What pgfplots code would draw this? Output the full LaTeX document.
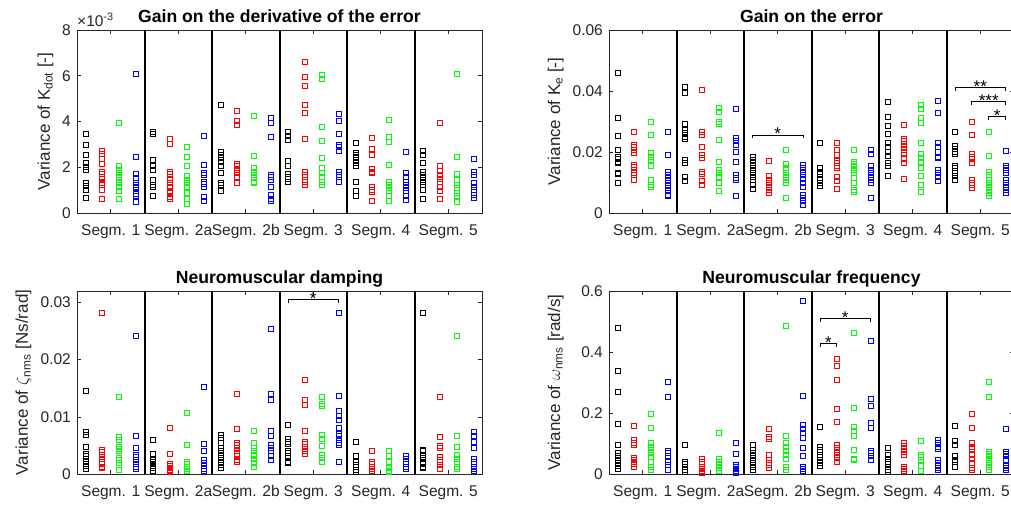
\documentclass[border=0pt]{standalone}
\usepackage{pgfplots}
\pgfplotsset{compat=1.18}
\usepackage{fontspec}
\setmainfont{Liberation Sans}
\definecolor{axgray}{gray}{0.15}
\definecolor{mred}{rgb}{1,0,0}
\definecolor{mgreen}{rgb}{0,1,0}
\definecolor{mblue}{rgb}{0,0,1}
\pgfplotsset{
  every axis title shift=0pt,
  panel/.style={
    scale only axis, width=405pt, height=183pt,
    xmin=0, xmax=24, ymin=0,
    xtick={2,6,10,14,18,22},
    xticklabels={Segm. 1,Segm. 2a,Segm. 2b,Segm. 3,Segm. 4,Segm. 5},
    tick align=inside, major tick length=4pt,
    axis line style={axgray, line width=0.6pt},
    tick style={axgray, line width=0.6pt},
    ticklabel style={font=\fontsize{15.5}{18}\selectfont, text=axgray},
    xticklabel style={anchor=base, yshift=-22.7pt, inner sep=0pt},
    yticklabel style={anchor=east, inner sep=0pt, xshift=-6pt},
    extra x ticks={4,8,12,16,20},
    extra x tick labels={},
    extra x tick style={grid=major, major grid style={black, line width=2pt}, major tick length=0pt},
    title style={font=\bfseries\fontsize{17.6}{20}\selectfont, at={(axis description cs:0.5,1.04)}, anchor=base},
    ylabel style={font=\fontsize{17}{20}\selectfont, text=axgray, anchor=base},
    /pgf/number format/assume math mode=true,
    scaled y ticks=false,
    clip=false,
  },
  pk/.style={only marks, mark=square, mark size=2.5pt, black, mark options={line width=0.7pt}},
  pr/.style={only marks, mark=square, mark size=2.5pt, mred, mark options={line width=0.7pt}},
  pg/.style={only marks, mark=square, mark size=2.5pt, mgreen, mark options={line width=0.7pt}},
  pb/.style={only marks, mark=square, mark size=2.5pt, mblue, mark options={line width=0.7pt}},
}
% x1, x2, xmid, y, stars
\newcommand{\sig}[5]{%
  \draw[black, line width=0.7pt] ([yshift=-3.3pt]axis cs:#1,#4) -- (axis cs:#1,#4) -- (axis cs:#2,#4) -- ([yshift=-3.3pt]axis cs:#2,#4);
  \node[anchor=base, inner sep=0pt, text height=0.72em, text depth=0pt, font=\fontsize{17}{20}\selectfont, yshift=-5pt] at (axis cs:#3,#4) {#5};}
\begin{document}
\begin{tikzpicture}
\useasboundingbox (0,0) rectangle (1011pt,507pt);
% ---------------- Panel A ----------------
\begin{axis}[panel, at={(77pt,294pt)}, anchor=south west,
  ymax=8, ytick={0,2,4,6,8}, yticklabels={0,2,4,6,8},
  title={Gain on the derivative of the error},
  ylabel={Variance of K\textsubscript{dot} [-]},
  ylabel style={at={(axis description cs:-0.0667,0.5)}}]
\addplot[pk] coordinates {(0.5,3.45)(0.5,3.0)(0.5,2.55)(0.5,2.2)(0.5,2.0)(0.5,1.9)(0.5,1.3)(0.5,1.2)(0.5,1.0)(0.5,0.65)
(4.5,3.56)(4.5,3.46)(4.5,2.33)(4.5,2.11)(4.5,2.04)(4.5,1.89)(4.5,1.45)(4.5,1.24)(4.5,1.16)(4.5,0.73)
(8.5,4.73)(8.5,2.69)(8.5,2.55)(8.5,2.4)(8.5,2.25)(8.5,2.04)(8.5,1.77)(8.5,1.31)(8.5,1.21)(8.5,0.97)
(12.5,3.53)(12.5,3.37)(12.5,3.2)(12.5,2.3)(12.5,2.04)(12.5,1.72)(12.5,1.6)(12.5,1.5)(12.5,1.38)
(16.5,3.05)(16.5,2.65)(16.5,2.55)(16.5,2.44)(16.5,2.33)(16.5,2.18)(16.5,2.04)(16.5,1.34)(16.5,0.99)(16.5,0.73)
(20.5,2.72)(20.5,2.55)(20.5,2.18)(20.5,1.82)(20.5,1.67)(20.5,1.53)(20.5,1.38)(20.5,1.24)(20.5,1.02)(20.5,0.63)};
\addplot[pr] coordinates {(1.5,2.72)(1.5,2.59)(1.5,2.37)(1.5,2.15)(1.5,1.82)(1.5,1.72)(1.5,1.6)(1.5,1.48)(1.5,1.31)(1.5,1.24)(1.5,1.02)(1.5,0.63)
(5.5,3.23)(5.5,3.03)(5.5,1.79)(5.5,1.72)(5.5,1.45)(5.5,1.31)(5.5,1.16)(5.5,0.95)(5.5,0.87)(5.5,0.7)(5.5,0.63)
(9.5,4.48)(9.5,4.04)(9.5,3.85)(9.5,2.15)(9.5,2.04)(9.5,1.89)(9.5,1.77)(9.5,1.6)(9.5,1.31)
(13.5,6.62)(13.5,5.96)(13.5,5.57)(13.5,4.74)(13.5,4.39)(13.5,3.26)(13.5,1.79)(13.5,1.67)(13.5,1.57)(13.5,1.45)(13.5,1.34)(13.5,1.24)
(17.5,3.27)(17.5,2.81)(17.5,2.55)(17.5,1.92)(17.5,1.82)(17.5,1.75)(17.5,1.13)(17.5,1.02)(17.5,0.92)(17.5,0.55)
(21.5,3.96)(21.5,2.04)(21.5,1.86)(21.5,1.67)(21.5,1.5)(21.5,1.34)(21.5,1.16)(21.5,0.95)(21.5,0.61)};
\addplot[pg] coordinates {(2.5,3.96)(2.5,2.04)(2.5,1.89)(2.5,1.75)(2.5,1.6)(2.5,1.45)(2.5,1.31)(2.5,1.16)(2.5,0.95)(2.5,0.61)
(6.5,2.91)(6.5,2.47)(6.5,2.04)(6.5,1.64)(6.5,1.45)(6.5,1.31)(6.5,1.13)(6.5,0.9)(6.5,0.61)(6.5,0.41)
(10.5,4.26)(10.5,2.52)(10.5,1.96)(10.5,1.82)(10.5,1.67)(10.5,1.53)(10.5,1.38)(10.5,1.31)
(14.5,6.04)(14.5,5.85)(14.5,3.78)(14.5,3.17)(14.5,2.43)(14.5,1.96)(14.5,1.77)(14.5,1.6)(14.5,1.38)(14.5,1.24)
(18.5,4.07)(18.5,3.32)(18.5,3.13)(18.5,2.11)(18.5,1.38)(18.5,1.24)(18.5,1.09)(18.5,0.95)(18.5,0.73)(18.5,0.51)
(22.5,6.08)(22.5,2.44)(22.5,1.72)(22.5,1.45)(22.5,1.24)(22.5,1.12)(22.5,0.87)(22.5,0.73)(22.5,0.48)};
\addplot[pb] coordinates {(3.5,6.08)(3.5,2.44)(3.5,1.72)(3.5,1.53)(3.5,1.31)(3.5,1.24)(3.5,1.16)(3.5,1.09)(3.5,0.84)(3.5,0.73)(3.5,0.48)
(7.5,3.39)(7.5,2.11)(7.5,1.77)(7.5,1.67)(7.5,1.38)(7.5,1.27)(7.5,1.16)(7.5,0.7)(7.5,0.51)
(11.5,4.15)(11.5,3.93)(11.5,3.35)(11.5,1.67)(11.5,1.6)(11.5,1.45)(11.5,1.16)(11.5,0.8)(11.5,0.63)(11.5,0.51)
(15.5,4.32)(15.5,4.04)(15.5,3.46)(15.5,2.98)(15.5,2.88)(15.5,2.73)(15.5,1.79)(15.5,1.67)(15.5,1.57)(15.5,1.34)
(19.5,2.66)(19.5,1.77)(19.5,1.6)(19.5,1.38)(19.5,1.24)(19.5,1.09)(19.5,0.95)(19.5,0.73)(19.5,0.58)
(23.5,2.37)(23.5,1.79)(23.5,1.67)(23.5,1.31)(23.5,1.16)(23.5,1.02)(23.5,0.8)(23.5,0.65)};
\node[anchor=base west, inner sep=0pt, text=axgray, font=\fontsize{15.5}{18}\selectfont] at ([yshift=4pt]rel axis cs:0,1) {×10\textsuperscript{-3}};
\end{axis}
% ---------------- Panel B ----------------
\begin{axis}[panel, at={(609pt,294pt)}, anchor=south west,
  ymax=0.06, ytick={0,0.02,0.04,0.06}, yticklabels={0,0.02,0.04,0.06},
  title={Gain on the error},
  ylabel={Variance of K\textsubscript{e} [-]},
  ylabel style={at={(axis description cs:-0.121,0.5)}}]
\addplot[pk] coordinates {(0.5,0.0460)(0.5,0.0313)(0.5,0.0253)(0.5,0.0207)(0.5,0.0185)(0.5,0.0177)(0.5,0.0169)(0.5,0.0164)(0.5,0.0131)(0.5,0.0128)(0.5,0.0099)
(4.5,0.0412)(4.5,0.0395)(4.5,0.0292)(4.5,0.0273)(4.5,0.0262)(4.5,0.0251)(4.5,0.0242)(4.5,0.0175)(4.5,0.0164)(4.5,0.012)(4.5,0.0104)
(8.5,0.0185)(8.5,0.0175)(8.5,0.0164)(8.5,0.0153)(8.5,0.0142)(8.5,0.0131)(8.5,0.012)(8.5,0.0109)(8.5,0.0093)(8.5,0.0079)
(12.5,0.0231)(12.5,0.0147)(12.5,0.0136)(12.5,0.0129)(12.5,0.0109)(12.5,0.01)(12.5,0.0089)
(16.5,0.0365)(16.5,0.0316)(16.5,0.0286)(16.5,0.026)(16.5,0.0229)(16.5,0.0218)(16.5,0.0202)(16.5,0.0188)(16.5,0.0164)(16.5,0.0155)(16.5,0.0123)
(20.5,0.0267)(20.5,0.022)(20.5,0.0209)(20.5,0.0202)(20.5,0.0194)(20.5,0.0155)(20.5,0.0147)(20.5,0.0139)(20.5,0.0131)(20.5,0.0122)(20.5,0.0109)};
\addplot[pr] coordinates {(1.5,0.0267)(1.5,0.0224)(1.5,0.0216)(1.5,0.0207)(1.5,0.0196)(1.5,0.0158)(1.5,0.0151)(1.5,0.0142)(1.5,0.0133)(1.5,0.0125)(1.5,0.0109)
(5.5,0.0404)(5.5,0.0267)(5.5,0.0256)(5.5,0.0216)(5.5,0.0191)(5.5,0.018)(5.5,0.0136)(5.5,0.0129)(5.5,0.0104)(5.5,0.0093)
(9.5,0.0172)(9.5,0.0122)(9.5,0.0109)(9.5,0.01)(9.5,0.0093)(9.5,0.0085)(9.5,0.0076)(9.5,0.0065)
(13.5,0.0229)(13.5,0.0207)(13.5,0.0191)(13.5,0.0171)(13.5,0.0164)(13.5,0.0156)(13.5,0.0147)(13.5,0.012)(13.5,0.0107)(13.5,0.008)
(17.5,0.0289)(17.5,0.0242)(17.5,0.0235)(17.5,0.0226)(17.5,0.0216)(17.5,0.0207)(17.5,0.0196)(17.5,0.0177)(17.5,0.0164)(17.5,0.0111)
(21.5,0.03)(21.5,0.0256)(21.5,0.0194)(21.5,0.0185)(21.5,0.0177)(21.5,0.0164)(21.5,0.0109)(21.5,0.0098)(21.5,0.0093)(21.5,0.0082)};
\addplot[pg] coordinates {(2.5,0.0299)(2.5,0.0256)(2.5,0.0196)(2.5,0.0185)(2.5,0.0175)(2.5,0.0153)(2.5,0.0109)(2.5,0.0093)(2.5,0.0085)
(6.5,0.0344)(6.5,0.0333)(6.5,0.03)(6.5,0.0292)(6.5,0.024)(6.5,0.0167)(6.5,0.0142)(6.5,0.0133)(6.5,0.012)(6.5,0.0098)(6.5,0.0074)
(10.5,0.0207)(10.5,0.016)(10.5,0.0149)(10.5,0.014)(10.5,0.0131)(10.5,0.012)(10.5,0.0109)(10.5,0.0098)(10.5,0.0049)
(14.5,0.0207)(14.5,0.0169)(14.5,0.016)(14.5,0.0153)(14.5,0.0142)(14.5,0.0131)(14.5,0.0115)(14.5,0.0098)(14.5,0.0076)(14.5,0.0068)
(18.5,0.0355)(18.5,0.034)(18.5,0.0311)(18.5,0.0297)(18.5,0.0231)(18.5,0.0194)(18.5,0.018)(18.5,0.0169)(18.5,0.0147)(18.5,0.0122)(18.5,0.0093)(18.5,0.0068)
(22.5,0.0267)(22.5,0.0189)(22.5,0.0136)(22.5,0.0125)(22.5,0.0109)(22.5,0.0098)(22.5,0.0085)(22.5,0.0076)(22.5,0.0065)(22.5,0.0055)};
\addplot[pb] coordinates {(3.5,0.0267)(3.5,0.019)(3.5,0.0136)(3.5,0.0125)(3.5,0.0115)(3.5,0.0104)(3.5,0.0093)(3.5,0.0082)(3.5,0.0071)(3.5,0.006)(3.5,0.0055)
(7.5,0.0343)(7.5,0.0245)(7.5,0.0235)(7.5,0.0224)(7.5,0.0202)(7.5,0.0167)(7.5,0.0125)(7.5,0.0115)(7.5,0.0109)(7.5,0.0055)
(11.5,0.0158)(11.5,0.0147)(11.5,0.0136)(11.5,0.0125)(11.5,0.0111)(11.5,0.0098)(11.5,0.0087)(11.5,0.006)(11.5,0.0049)(11.5,0.004)(11.5,0.0027)
(15.5,0.0207)(15.5,0.0194)(15.5,0.0156)(15.5,0.014)(15.5,0.0131)(15.5,0.012)(15.5,0.0109)(15.5,0.0098)(15.5,0.0049)
(19.5,0.0368)(19.5,0.0327)(19.5,0.0231)(19.5,0.0218)(19.5,0.0202)(19.5,0.0185)(19.5,0.018)(19.5,0.0142)(19.5,0.0133)(19.5,0.012)(19.5,0.0106)
(23.5,0.0205)(23.5,0.0155)(23.5,0.0147)(23.5,0.014)(23.5,0.0133)(23.5,0.0109)(23.5,0.0098)(23.5,0.0087)(23.5,0.0076)(23.5,0.0065)};
\sig{8.5}{11.5}{10}{0.0256}{*}
\sig{20.5}{23.5}{22}{0.0411}{**}
\sig{21.5}{23.5}{22.5}{0.0365}{***}
\sig{22.5}{23.5}{23}{0.0316}{*}
\end{axis}
% ---------------- Panel C ----------------
\begin{axis}[panel, at={(77pt,33pt)}, anchor=south west,
  ymax=0.032, ytick={0,0.01,0.02,0.03}, yticklabels={0,0.01,0.02,0.03},
  title={Neuromuscular damping},
  ylabel={Variance of $\zeta$\textsubscript{nms} [Ns/rad]},
  ylabel style={at={(axis description cs:-0.121,0.5)}}]
\addplot[pk] coordinates {(0.5,0.0146)(0.5,0.0073)(0.5,0.0069)(0.5,0.0047)(0.5,0.0036)(0.5,0.0031)(0.5,0.0026)(0.5,0.0021)(0.5,0.0015)(0.5,0.0009)
(4.5,0.006)(4.5,0.0036)(4.5,0.0025)(4.5,0.0022)(4.5,0.0018)(4.5,0.0015)(4.5,0.001)(4.5,0.0006)
(8.5,0.0069)(8.5,0.0063)(8.5,0.0054)(8.5,0.0045)(8.5,0.004)(8.5,0.0034)(8.5,0.0028)(8.5,0.0022)(8.5,0.0016)(8.5,0.001)
(12.5,0.0086)(12.5,0.0062)(12.5,0.0057)(12.5,0.0053)(12.5,0.0041)(12.5,0.0037)(12.5,0.0032)(12.5,0.0028)(12.5,0.0022)(12.5,0.0019)
(16.5,0.0057)(16.5,0.0031)(16.5,0.0022)(16.5,0.0016)(16.5,0.0012)(16.5,0.0008)(16.5,0.0003)
(20.5,0.0281)(20.5,0.0043)(20.5,0.004)(20.5,0.0034)(20.5,0.0028)(20.5,0.0022)(20.5,0.0018)(20.5,0.0013)(20.5,0.001)};
\addplot[pr] coordinates {(1.5,0.0281)(1.5,0.0043)(1.5,0.0038)(1.5,0.0034)(1.5,0.003)(1.5,0.0026)(1.5,0.0022)(1.5,0.0018)(1.5,0.0013)(1.5,0.001)
(5.5,0.008)(5.5,0.0036)(5.5,0.0018)(5.5,0.0015)(5.5,0.001)(5.5,0.0008)(5.5,0.0005)(5.5,0.0003)
(9.5,0.014)(9.5,0.0079)(9.5,0.0054)(9.5,0.0051)(9.5,0.0045)(9.5,0.0041)(9.5,0.0036)(9.5,0.0031)(9.5,0.0025)(9.5,0.0022)
(13.5,0.0165)(13.5,0.0129)(13.5,0.0121)(13.5,0.0075)(13.5,0.0057)(13.5,0.0052)(13.5,0.0048)(13.5,0.0044)(13.5,0.004)(13.5,0.0036)
(17.5,0.0041)(17.5,0.0022)(17.5,0.0018)(17.5,0.0013)(17.5,0.0009)(17.5,0.0006)
(21.5,0.0135)(21.5,0.0065)(21.5,0.005)(21.5,0.0045)(21.5,0.003)(21.5,0.0025)(21.5,0.0022)(21.5,0.0016)(21.5,0.0009)};
\addplot[pg] coordinates {(2.5,0.0135)(2.5,0.0065)(2.5,0.006)(2.5,0.0047)(2.5,0.0044)(2.5,0.004)(2.5,0.0028)(2.5,0.0024)(2.5,0.0019)(2.5,0.0008)
(6.5,0.0107)(6.5,0.0051)(6.5,0.0022)(6.5,0.0018)(6.5,0.0013)(6.5,0.0009)(6.5,0.0005)
(10.5,0.0075)(10.5,0.0054)(10.5,0.0045)(10.5,0.004)(10.5,0.0034)(10.5,0.0031)(10.5,0.0026)(10.5,0.0019)(10.5,0.0012)
(14.5,0.0135)(14.5,0.0123)(14.5,0.012)(14.5,0.0068)(14.5,0.0062)(14.5,0.005)(14.5,0.0034)(14.5,0.0028)(14.5,0.0022)
(18.5,0.0041)(18.5,0.0032)(18.5,0.0022)(18.5,0.001)(18.5,0.0006)(18.5,0.0003)
(22.5,0.0241)(22.5,0.0066)(22.5,0.0047)(22.5,0.0034)(22.5,0.0026)(22.5,0.0022)(22.5,0.0018)(22.5,0.0013)(22.5,0.0009)};
\addplot[pb] coordinates {(3.5,0.0241)(3.5,0.0066)(3.5,0.0045)(3.5,0.0033)(3.5,0.003)(3.5,0.0025)(3.5,0.0022)(3.5,0.0018)(3.5,0.0013)(3.5,0.0009)
(7.5,0.0152)(7.5,0.0053)(7.5,0.004)(7.5,0.0025)(7.5,0.002)(7.5,0.0015)(7.5,0.0009)(7.5,0.0005)
(11.5,0.0253)(11.5,0.014)(11.5,0.0129)(11.5,0.0075)(11.5,0.0066)(11.5,0.0051)(11.5,0.0045)(11.5,0.004)(11.5,0.0032)(11.5,0.0025)
(15.5,0.0281)(15.5,0.0136)(15.5,0.011)(15.5,0.0101)(15.5,0.0095)(15.5,0.008)(15.5,0.007)(15.5,0.0066)(15.5,0.006)(15.5,0.0055)(15.5,0.0051)(15.5,0.0022)
(19.5,0.0031)(19.5,0.0026)(19.5,0.0022)(19.5,0.0018)(19.5,0.0013)(19.5,0.0009)
(23.5,0.0073)(23.5,0.0066)(23.5,0.0057)(23.5,0.0045)(23.5,0.0026)(23.5,0.0022)(23.5,0.0018)(23.5,0.0013)(23.5,0.0009)(23.5,0.0005)};
\sig{12.5}{15.5}{14}{0.0305}{*}
\end{axis}
% ---------------- Panel D ----------------
\begin{axis}[panel, at={(609pt,33pt)}, anchor=south west,
  ymax=0.6, ytick={0,0.2,0.4,0.6}, yticklabels={0,0.2,0.4,0.6},
  title={Neuromuscular frequency},
  ylabel={Variance of $\omega$\textsubscript{nms} [rad/s]},
  ylabel style={at={(axis description cs:-0.121,0.5)}}]
\addplot[pk] coordinates {(0.5,0.479)(0.5,0.338)(0.5,0.268)(0.5,0.164)(0.5,0.096)(0.5,0.071)(0.5,0.058)(0.5,0.047)(0.5,0.036)(0.5,0.027)(0.5,0.017)
(4.5,0.094)(4.5,0.041)(4.5,0.034)(4.5,0.025)(4.5,0.014)(4.5,0.007)
(8.5,0.094)(8.5,0.079)(8.5,0.069)(8.5,0.058)(8.5,0.047)(8.5,0.036)(8.5,0.025)(8.5,0.014)
(12.5,0.156)(12.5,0.088)(12.5,0.079)(12.5,0.072)(12.5,0.063)(12.5,0.056)(12.5,0.047)(12.5,0.038)(12.5,0.028)
(16.5,0.085)(16.5,0.063)(16.5,0.05)(16.5,0.041)(16.5,0.033)(16.5,0.023)(16.5,0.014)(16.5,0.007)
(20.5,0.159)(20.5,0.109)(20.5,0.096)(20.5,0.058)(20.5,0.047)(20.5,0.039)(20.5,0.025)};
\addplot[pr] coordinates {(1.5,0.159)(1.5,0.112)(1.5,0.103)(1.5,0.094)(1.5,0.054)(1.5,0.047)(1.5,0.041)(1.5,0.034)(1.5,0.025)
(5.5,0.049)(5.5,0.041)(5.5,0.034)(5.5,0.025)(5.5,0.016)(5.5,0.009)(5.5,0.003)
(9.5,0.147)(9.5,0.123)(9.5,0.115)(9.5,0.063)(9.5,0.047)(9.5,0.038)(9.5,0.03)(9.5,0.02)
(13.5,0.379)(13.5,0.355)(13.5,0.31)(13.5,0.212)(13.5,0.172)(13.5,0.094)(13.5,0.085)(13.5,0.074)(13.5,0.063)(13.5,0.052)(13.5,0.039)
(17.5,0.101)(17.5,0.093)(17.5,0.083)(17.5,0.072)(17.5,0.063)(17.5,0.025)(17.5,0.016)(17.5,0.009)
(21.5,0.197)(21.5,0.15)(21.5,0.101)(21.5,0.09)(21.5,0.082)(21.5,0.063)(21.5,0.05)(21.5,0.036)(21.5,0.02)(21.5,0.012)};
\addplot[pg] coordinates {(2.5,0.197)(2.5,0.15)(2.5,0.101)(2.5,0.09)(2.5,0.079)(2.5,0.069)(2.5,0.056)(2.5,0.041)(2.5,0.025)(2.5,0.014)
(6.5,0.134)(6.5,0.049)(6.5,0.041)(6.5,0.03)(6.5,0.02)(6.5,0.009)
(10.5,0.486)(10.5,0.125)(10.5,0.101)(10.5,0.088)(10.5,0.077)(10.5,0.063)(10.5,0.049)(10.5,0.023)(10.5,0.014)
(14.5,0.463)(14.5,0.216)(14.5,0.156)(14.5,0.143)(14.5,0.125)(14.5,0.079)(14.5,0.05)(14.5,0.045)
(18.5,0.109)(18.5,0.063)(18.5,0.056)(18.5,0.045)(18.5,0.027)(18.5,0.009)
(22.5,0.301)(22.5,0.252)(22.5,0.074)(22.5,0.066)(22.5,0.058)(22.5,0.047)(22.5,0.036)(22.5,0.025)(22.5,0.012)};
\addplot[pb] coordinates {(3.5,0.301)(3.5,0.252)(3.5,0.077)(3.5,0.069)(3.5,0.058)(3.5,0.041)(3.5,0.03)(3.5,0.014)
(7.5,0.103)(7.5,0.066)(7.5,0.03)(7.5,0.025)(7.5,0.017)(7.5,0.011)(7.5,0.003)
(11.5,0.567)(11.5,0.256)(11.5,0.161)(11.5,0.147)(11.5,0.136)(11.5,0.118)(11.5,0.087)(11.5,0.061)(11.5,0.023)(11.5,0.016)(11.5,0.009)
(15.5,0.436)(15.5,0.248)(15.5,0.223)(15.5,0.167)(15.5,0.15)(15.5,0.077)(15.5,0.069)(15.5,0.058)(15.5,0.047)
(19.5,0.112)(19.5,0.101)(19.5,0.09)(19.5,0.082)(19.5,0.047)(19.5,0.038)(19.5,0.028)(19.5,0.02)(19.5,0.012)
(23.5,0.147)(23.5,0.074)(23.5,0.066)(23.5,0.058)(23.5,0.047)(23.5,0.027)(23.5,0.02)(23.5,0.012)};
\sig{12.5}{15.5}{14}{0.51}{*}
\sig{12.5}{13.5}{13}{0.428}{*}
\end{axis}
\end{tikzpicture}
\end{document}
